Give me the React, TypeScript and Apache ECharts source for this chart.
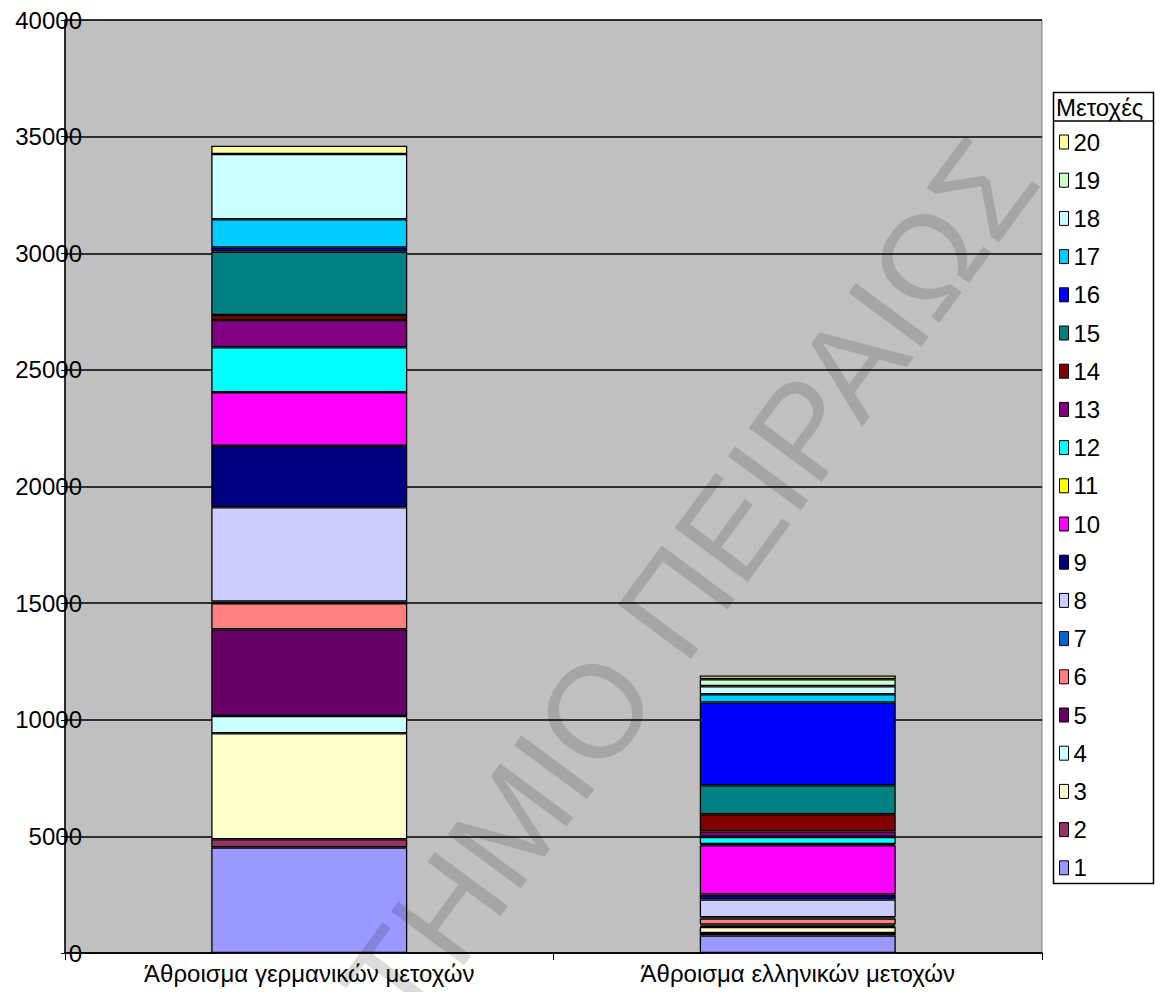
import React, { useEffect, useRef } from "react";
import * as echarts from "echarts";

const categories = ["Άθροισμα γερμανικών μετοχών", "Άθροισμα ελληνικών μετοχών"];
const seriesNames = ["1","2","3","4","5","6","7","8","9","10","11","12","13","14","15","16","17","18","19","20"];
const s1 = [4530, 750];
const s2 = [345, 110];
const s3 = [4545, 260];
const s4 = [740, 50];
const s5 = [3720, 50];
const s6 = [1115, 260];
const s7 = [70, 50];
const s8 = [4045, 765];
const s9 = [2630, 215];
const s10 = [2300, 2110];
const s11 = [0, 50];
const s12 = [1930, 310];
const s13 = [1170, 230];
const s14 = [215, 740];
const s15 = [2715, 1245];
const s16 = [170, 3545];
const s17 = [1215, 355];
const s18 = [2800, 345];
const s19 = [0, 300];
const s20 = [355, 160];
const allValues = [s1,s2,s3,s4,s5,s6,s7,s8,s9,s10,s11,s12,s13,s14,s15,s16,s17,s18,s19,s20];
const colors = ["#9999FF","#993366","#FFFFCC","#CCFFFF","#660066","#FF8080","#0066CC","#CCCCFF","#000080","#FF00FF","#FFFF00","#00FFFF","#800080","#800000","#008080","#0000FF","#00CCFF","#CCFFFF","#CCFFCC","#FFFF99"];
const legendTitle = "Μετοχές";
const watermark = "ΠΑΝΕΠΙΣΤΗΜΙΟ ΠΕΙΡΑΙΩΣ";
const yTicks = { min: 0, max: 40000, interval: 5000 };

const FONT = "'Liberation Sans', Arial, sans-serif";

export default function App() {
  const ref = useRef<HTMLDivElement>(null);
  useEffect(() => {
    document.body.style.margin = "0";
    const chart = echarts.init(ref.current!, null, { renderer: "svg" });
    const series = seriesNames.map((n, i) => ({
      name: n,
      type: "bar",
      stack: "total",
      barWidth: 196,
      data: allValues[i],
      itemStyle: { color: colors[i], borderColor: "#000", borderWidth: 1.3 },
      emphasis: { disabled: true },
    }));
    const ang = (53.5 * Math.PI) / 180;
    chart.setOption({
      animation: false,
      textStyle: { fontFamily: FONT },
      grid: {
        left: 65, top: 20, right: 120, bottom: 39,
        show: true, backgroundColor: "#C0C0C0", borderColor: "#808080", borderWidth: 1,
      },
      xAxis: {
        type: "category",
        data: categories,
        axisLine: { lineStyle: { color: "#000", width: 1.5 } },
        axisTick: { show: true, length: 7, lineStyle: { color: "#000" } },
        axisLabel: { color: "#000", fontSize: 24, fontFamily: FONT, margin: 8 },
      },
      yAxis: {
        type: "value",
        min: yTicks.min, max: yTicks.max, interval: yTicks.interval,
        axisLine: { show: true, lineStyle: { color: "#000", width: 1.5 } },
        axisTick: { show: true, length: 4, lineStyle: { color: "#000" } },
        splitLine: { show: true, lineStyle: { color: "#000", width: 1.5 } },
        axisLabel: { color: "#000", fontSize: 24, fontFamily: FONT, margin: -17, formatter: (v: number) => String(v) },
      },
      legend: {
        orient: "vertical",
        left: 1059,
        top: 130,
        padding: 0,
        itemWidth: 9,
        itemHeight: 14,
        itemGap: 14.2,
        icon: "rect",
        z: 10,
        data: seriesNames.slice().reverse(),
        selectedMode: false,
        textStyle: { color: "#000", fontSize: 24, fontFamily: FONT, lineHeight: 24, padding: [0, 0, 0, 0] },
        itemStyle: { borderColor: "#000", borderWidth: 1 },
      },
      graphic: [
        {
          type: "rect", z: 1,
          shape: { x: 1053.5, y: 92.5, width: 100, height: 791 },
          style: { fill: "#fff", stroke: "#000", lineWidth: 1.5 },
        },
        {
          type: "line", z: 2,
          shape: { x1: 1053.5, y1: 121, x2: 1153.5, y2: 121 },
          style: { stroke: "#000", lineWidth: 1.5 },
        },
        {
          type: "text", z: 2, x: 1056, y: 107,
          style: { text: legendTitle, fill: "#000", font: `24px ${FONT}`, textVerticalAlign: "middle" },
        },
        {
          type: "text", z: 100, silent: true,
          x: 982 + 41 * Math.cos(ang), y: 188 - 41 * Math.sin(ang), rotation: ang,
          style: {
            text: watermark, fill: "rgba(0,0,0,0.14)",
            font: `132px ${FONT}`,
            textAlign: "right", textVerticalAlign: "middle",
          },
        },
      ],
      series,
    });
    return () => chart.dispose();
  }, []);
  return <div ref={ref} style={{ width: 1162, height: 992 }} />;
}
